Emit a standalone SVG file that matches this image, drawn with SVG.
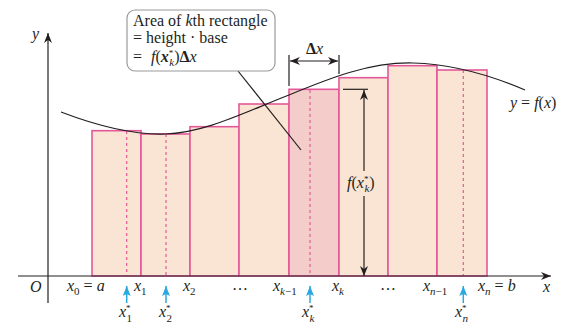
<svg xmlns="http://www.w3.org/2000/svg" width="563" height="330" viewBox="0 0 563 330">
<defs>
<style>
.rect{fill:#fae5d4;stroke:#e4589a;stroke-width:1.6}
.hl{fill:#f4cdca}
.dash{stroke:#e4589a;stroke-width:1.2;stroke-dasharray:3 3;fill:none}
.ln{stroke:#231f20;stroke-width:1.2;fill:none}
.blue{stroke:#2aa9e0;stroke-width:1.5;fill:none}
text{font-family:"Liberation Serif","Times New Roman",serif;font-size:16px;fill:#231f20}
.i{font-style:italic}
.s{font-size:11px}
.st{font-size:9px;font-style:normal}
.n{font-style:normal}
</style>
<marker id="ah" viewBox="0 0 10 8" refX="10" refY="4" markerWidth="10" markerHeight="8" markerUnits="userSpaceOnUse" orient="auto-start-reverse">
<path d="M0,0 L10,4 L0,8 L3,4 z" fill="#231f20"/>
</marker>
<marker id="bh" viewBox="0 0 8 10" refX="4" refY="0" markerWidth="8" markerHeight="10" markerUnits="userSpaceOnUse" orient="0">
<path d="M4,0 L8,10 L4,8 L0,10 z" fill="#2aa9e0"/>
</marker>
</defs>

<g id="rectangles">
<rect class="rect" x="92" y="130.7" width="49" height="145.3"/>
<rect class="rect" x="141" y="134" width="49" height="142"/>
<rect class="rect" x="190" y="126.7" width="49" height="149.3"/>
<rect class="rect" x="239" y="104" width="50" height="172"/>
<rect class="rect hl" x="289" y="89.3" width="50" height="186.7"/>
<rect class="rect" x="339" y="77.7" width="49" height="198.3"/>
<rect class="rect" x="388" y="65.7" width="49" height="210.3"/>
<rect class="rect" x="437" y="70" width="50" height="206"/>
<line class="dash" x1="126.7" y1="131" x2="126.7" y2="276"/>
<line class="dash" x1="166" y1="134" x2="166" y2="276"/>
<line class="dash" x1="310" y1="90" x2="310" y2="276"/>
<line class="dash" x1="463.3" y1="70" x2="463.3" y2="276"/>
</g>

<g id="curve">
<path class="ln" stroke-width="1.8" d="M61,112 C95,125 130,135 165,134 C205,133 245,112 289,95 C330,78 370,62 413,63 C450,64 490,75 525,90"/>
</g>

<g id="axes">
<line class="ln" x1="48" y1="303" x2="48" y2="33" marker-end="url(#ah)"/>
<line class="ln" x1="18" y1="276" x2="551" y2="276" marker-end="url(#ah)"/>
<text class="i" x="32" y="39">y</text>
<text class="i" x="30" y="292">O</text>
<text class="i" x="543" y="292">x</text>
</g>

<g id="connectors">
<line class="ln" stroke-width="1" x1="238" y1="71" x2="301" y2="150"/>
<line class="ln" stroke-width="1" x1="289" y1="55" x2="289" y2="86"/>
<line class="ln" stroke-width="1" x1="339" y1="55" x2="339" y2="74"/>
<line class="ln" stroke-width="1" x1="290" y1="61" x2="338" y2="61" marker-start="url(#ah)" marker-end="url(#ah)"/>
<line class="ln" stroke-width="1" x1="343" y1="89.3" x2="368" y2="89.3"/>
<line class="ln" stroke-width="1.2" x1="364" y1="171" x2="364" y2="90" marker-end="url(#ah)"/>
<line class="ln" stroke-width="1.2" x1="364" y1="196" x2="364" y2="276" marker-end="url(#ah)"/>
<line class="blue" x1="126.7" y1="303" x2="126.7" y2="286" marker-end="url(#bh)"/>
<line class="blue" x1="166" y1="303" x2="166" y2="286" marker-end="url(#bh)"/>
<line class="blue" x1="310" y1="303" x2="310" y2="286" marker-end="url(#bh)"/>
<line class="blue" x1="463.3" y1="303" x2="463.3" y2="286" marker-end="url(#bh)"/>
</g>

<g id="callout">
<rect x="127" y="10" width="148" height="61" rx="8" fill="#fff" stroke="#9a9a9a" stroke-width="1.2"/>
<text x="133" y="26">Area of <tspan class="i">k</tspan>th rectangle</text>
<text x="133" y="43">= height · base</text>
<text y="62"><tspan x="133">=</tspan><tspan class="i" x="151">f</tspan>(<tspan class="i" font-weight="bold">x</tspan><tspan class="st" dy="-6">*</tspan><tspan class="s i" dx="-4" dy="10">k</tspan><tspan dy="-4">)</tspan><tspan font-weight="bold">Δ</tspan><tspan class="i">x</tspan></text>
</g>

<g id="delta-label">
<text x="306" y="54"><tspan font-weight="bold">Δ</tspan><tspan class="i">x</tspan></text>
</g>

<g id="height-label">
<text x="347" y="188"><tspan class="i">f</tspan>(<tspan class="i">x</tspan><tspan class="st" dy="-6">*</tspan><tspan class="s i" dx="-4" dy="10">k</tspan><tspan dy="-4">)</tspan></text>
</g>

<g id="curve-label">
<text x="510" y="108"><tspan class="i">y</tspan> = <tspan class="i">f</tspan>(<tspan class="i">x</tspan>)</text>
</g>

<g id="x-labels">
<text class="i" x="67" y="291">x<tspan class="s n" dy="4">0</tspan><tspan class="n" dy="-4"> = </tspan>a</text>
<text class="i" x="134" y="291">x<tspan class="s n" dy="4">1</tspan></text>
<text class="i" x="183" y="291">x<tspan class="s n" dy="4">2</tspan></text>
<text x="232" y="290">…</text>
<text class="i" x="273" y="291">x<tspan class="s" dy="4">k<tspan class="n">−1</tspan></tspan></text>
<text class="i" x="332" y="291">x<tspan class="s" dy="4">k</tspan></text>
<text x="380" y="290">…</text>
<text class="i" x="423" y="291">x<tspan class="s" dy="4">n<tspan class="n">−1</tspan></tspan></text>
<text class="i" x="478" y="291">x<tspan class="s" dy="4">n</tspan><tspan class="n" dy="-4"> = </tspan><tspan>b</tspan></text>
</g>

<g id="star-labels">
<text class="i" x="119" y="317">x<tspan class="st" dy="-6">*</tspan><tspan class="s n" dx="-4" dy="11">1</tspan></text>
<text class="i" x="159" y="317">x<tspan class="st" dy="-6">*</tspan><tspan class="s n" dx="-4" dy="11">2</tspan></text>
<text class="i" x="302" y="317">x<tspan class="st" dy="-6">*</tspan><tspan class="s" dx="-4" dy="11">k</tspan></text>
<text class="i" x="455" y="317">x<tspan class="st" dy="-6">*</tspan><tspan class="s" dx="-4" dy="11">n</tspan></text>
</g>
</svg>
